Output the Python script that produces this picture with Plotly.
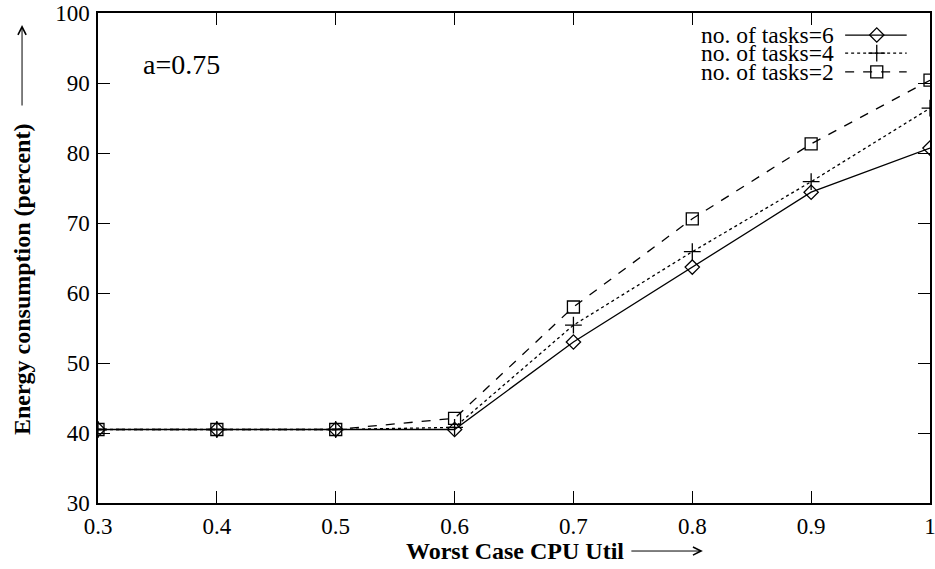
import plotly.graph_objects as go

util = [0.3, 0.4, 0.5, 0.6, 0.7, 0.8, 0.9, 1.0]
tasks6 = [40.5, 40.5, 40.5, 40.5, 53.0, 63.7, 74.4, 80.7]
tasks4 = [40.5, 40.5, 40.5, 40.8, 55.4, 65.9, 75.9, 86.4]
tasks2 = [40.5, 40.5, 40.5, 42.1, 58.0, 70.6, 81.3, 90.4]
series_names = ["no. of tasks=6", "no. of tasks=4", "no. of tasks=2"]
x_ticks = [0.3, 0.4, 0.5, 0.6, 0.7, 0.8, 0.9, 1.0]
x_tick_labels = ["0.3", "0.4", "0.5", "0.6", "0.7", "0.8", "0.9", "1"]
y_ticks = [30, 40, 50, 60, 70, 80, 90, 100]

FONT = "Liberation Serif"
styles = [
    dict(dash="solid", symbol="diamond-open", size=11),
    dict(dash="dot", symbol="cross-thin-open", size=12),
    dict(dash="dash", symbol="square-open", size=12),
]
data = [tasks6, tasks4, tasks2]

fig = go.Figure()
for name, ys, st in zip(series_names, data, styles):
    fig.add_trace(go.Scatter(
        x=util, y=ys, mode="lines+markers", name=name, showlegend=False,
        line=dict(color="black", width=1.3, dash=st["dash"]),
        marker=dict(symbol=st["symbol"], size=st["size"], color="black",
                    line=dict(color="black", width=1.3)),
    ))

# custom legend (text left, sample right) on an overlay axis in [0,1]
leg_y = [0.955, 0.918, 0.880]
for name, st, ly in zip(series_names, styles, leg_y):
    fig.add_trace(go.Scatter(
        x=[0.898, 0.972], y=[ly, ly], mode="lines", xaxis="x2", yaxis="y2",
        showlegend=False, hoverinfo="skip",
        line=dict(color="black", width=1.3, dash=st["dash"]),
    ))
    fig.add_trace(go.Scatter(
        x=[0.936], y=[ly], mode="markers", xaxis="x2", yaxis="y2",
        showlegend=False, hoverinfo="skip",
        marker=dict(symbol=st["symbol"], size=st["size"], color="black",
                    line=dict(color="black", width=1.3)),
    ))
    fig.add_annotation(x=0.886, y=ly, xref="paper", yref="paper", text=name,
                       showarrow=False, xanchor="right", yanchor="middle",
                       borderpad=0,
                       font=dict(family=FONT, size=23.5, color="black"))

axis_common = dict(showline=True, linecolor="black", linewidth=1.5, mirror="ticks",
                   ticks="inside", ticklen=12, tickwidth=1.2, tickcolor="black",
                   showgrid=False, zeroline=False, automargin=False,
                   ticklabeloverflow="allow",
                   tickfont=dict(family=FONT, size=23, color="black"))

fig.update_layout(
    width=935, height=569,
    margin=dict(l=98, r=5, t=13, b=66),
    font=dict(family=FONT, color="black"),
    paper_bgcolor="white", plot_bgcolor="white",
    xaxis=dict(range=[0.3, 1.0], tickvals=x_ticks, ticktext=x_tick_labels,
               ticklabelstandoff=2, **axis_common),
    yaxis=dict(range=[30, 100], tickvals=y_ticks, ticklabelstandoff=2, **axis_common),
    xaxis2=dict(range=[0, 1], overlaying="x", visible=False),
    yaxis2=dict(range=[0, 1], overlaying="y", visible=False),
)

# axis titles with arrows
fig.add_annotation(x=0.501, y=-0.098, xref="paper", yref="paper",
                   text="<b>Worst Case CPU Util</b>", showarrow=False,
                   xanchor="center", yanchor="middle",
                   font=dict(family=FONT, size=24, color="black"))
fig.add_annotation(x=0.727, y=-0.098, xref="paper", yref="paper", text="",
                   showarrow=True, ax=-73, ay=0, arrowhead=5, arrowsize=1.6,
                   arrowwidth=1, arrowcolor="black")
fig.add_annotation(x=-0.0913, y=0.457, xref="paper", yref="paper",
                   text="<b>Energy consumption (percent)</b>", showarrow=False,
                   xanchor="center", yanchor="middle",
                   textangle=-90, font=dict(family=FONT, size=24, color="black"))
fig.add_annotation(x=-0.0913, y=0.9755, xref="paper", yref="paper", text="",
                   showarrow=True, ax=0, ay=82, arrowhead=5, arrowsize=1.6,
                   arrowwidth=1, arrowcolor="black")
fig.add_annotation(x=0.0998, y=0.894, xref="paper", yref="paper", text="a=0.75",
                   showarrow=False, xanchor="center", yanchor="middle",
                   font=dict(family=FONT, size=28, color="black"))

fig.write_html("out.html", config={"displayModeBar": False},
               post_script="document.body.style.margin='0';document.body.style.overflow='hidden';")
